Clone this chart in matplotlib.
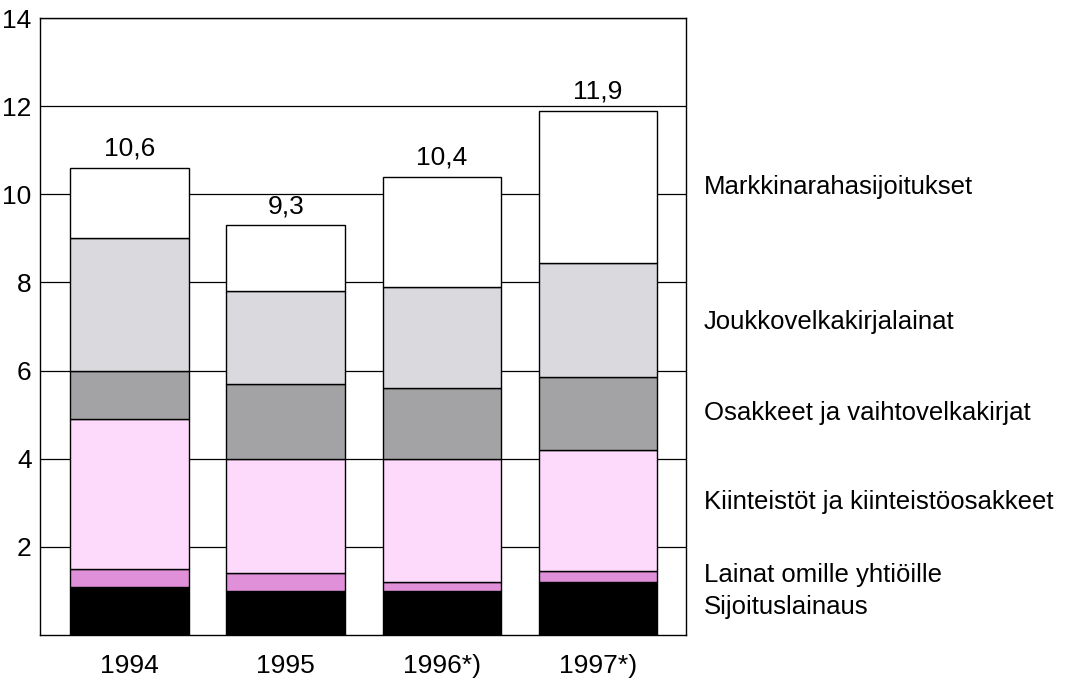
import matplotlib
matplotlib.use("Agg")
import matplotlib.pyplot as plt
import numpy as np

plt.rcParams['font.family'] = ['Liberation Sans', 'DejaVu Sans']

years = ["1994", "1995", "1996*)", "1997*)"]
series_names = ["Sijoituslainaus", "Lainat omille yhtiöille",
                "Kiinteistöt ja kiinteistöosakkeet", "Osakkeet ja vaihtovelkakirjat",
                "Joukkovelkakirjalainat", "Markkinarahasijoitukset"]
# segment heights
sijoitus = [1.1, 1.0, 1.0, 1.2]
lainat = [0.4, 0.4, 0.2, 0.25]
kiinteistot = [3.4, 2.6, 2.8, 2.75]
osakkeet = [1.1, 1.7, 1.6, 1.65]
joukko = [3.0, 2.1, 2.3, 2.6]
markkina = [1.6, 1.5, 2.5, 3.45]
totals = ["10,6", "9,3", "10,4", "11,9"]
label_y = [0.63, 1.36, 3.02, 5.03, 7.1, 10.16]

colors = ["#000000", "#e08fd9", "#fdd9fb", "#a3a3a5", "#d9d9de", "#ffffff"]

fig = plt.figure(figsize=(10.87, 6.85), dpi=100)
ax = fig.add_axes([0.0368, 0.073, 0.594, 0.9007])

x = np.arange(len(years))
bottom = np.zeros(len(years))
for vals, col in zip([sijoitus, lainat, kiinteistot, osakkeet, joukko, markkina], colors):
    ax.bar(x, vals, bottom=bottom, width=0.76, color=col, edgecolor="black",
           linewidth=1.0, zorder=3)
    bottom = bottom + np.array(vals)

for xi, top, lab in zip(x, bottom, totals):
    ax.annotate(lab, (xi, top), xytext=(0, 5), textcoords="offset points",
                ha="center", va="bottom", fontsize=19)

for name, yy in zip(series_names[::-1], label_y[::-1]):
    ax.text(1.028, yy, name, transform=ax.get_yaxis_transform(), ha="left",
            va="center", fontsize=18.5, clip_on=False)

ax.set_ylim(0, 14)
ax.set_xlim(-0.574, 3.561)
ax.set_yticks(range(2, 16, 2))
ax.set_yticklabels([str(v) for v in range(2, 16, 2)], fontsize=19)
ax.set_xticks(x)
ax.set_xticklabels(years, fontsize=19)
ax.tick_params(length=0, pad=14, axis="x")
ax.tick_params(length=0, pad=6, axis="y")
ax.yaxis.grid(True, color="black", linewidth=0.9, zorder=0)
ax.set_axisbelow(True)
for s in ax.spines.values():
    s.set_linewidth(1.0)

fig.savefig("out.png", dpi=100)
